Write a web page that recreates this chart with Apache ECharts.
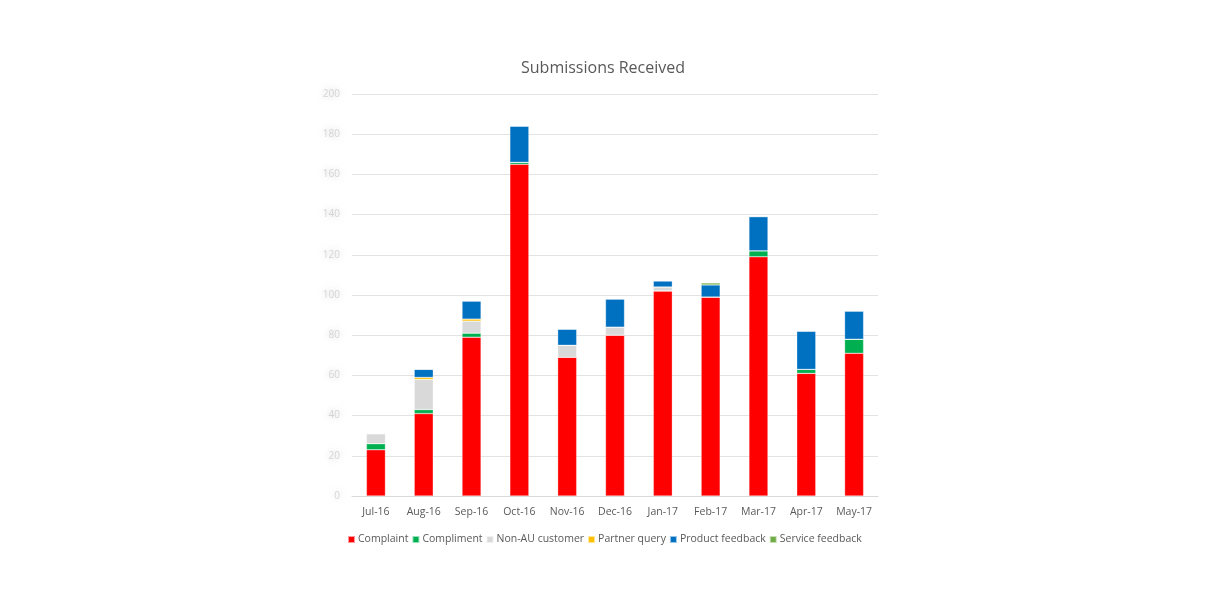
<!DOCTYPE html>
<html>
<head>
<meta charset="utf-8">
<script src="https://cdn.jsdelivr.net/npm/echarts@6/dist/echarts.min.js"></script>
<style>
  html, body { margin: 0; padding: 0; background: #fff; }
  #main { width: 1222px; height: 600px; }
</style>
</head>
<body>
<div id="main"></div>
<script>
var months = ["Jul-16", "Aug-16", "Sep-16", "Oct-16", "Nov-16", "Dec-16", "Jan-17", "Feb-17", "Mar-17", "Apr-17", "May-17"];
var complaint = [23, 41, 79, 165, 69, 80, 102, 99, 119, 61, 71];
var compliment = [3, 2, 2, 1, 0, 0, 0, 0, 3, 2, 7];
var nonAU = [5, 15, 6, 0, 6, 4, 2, 0, 0, 0, 0];
var partnerQuery = [0, 1, 1, 0, 0, 0, 0, 0, 0, 0, 0];
var productFeedback = [0, 4, 9, 18, 8, 14, 3, 6, 17, 19, 14];
var serviceFeedback = [0, 0, 0, 0, 0, 0, 0, 1, 0, 0, 0];

var seriesNames = ["Complaint", "Compliment", "Non-AU customer", "Partner query", "Product feedback", "Service feedback"];
var seriesData = [complaint, compliment, nonAU, partnerQuery, productFeedback, serviceFeedback];
var colors = ["#ff0000", "#00b050", "#d9d9d9", "#ffc000", "#0070c0", "#70ad47"];

var myChart = echarts.init(document.getElementById("main"));

var series = seriesNames.map(function (name, i) {
  return {
    name: name,
    type: "bar",
    stack: "total",
    barWidth: 19,
    data: seriesData[i],
    itemStyle: { color: colors[i], borderColor: "rgba(255,255,255,0.6)", borderWidth: 0.5 },
    emphasis: { disabled: true }
  };
});

myChart.setOption({
  animation: false,
  textStyle: { fontFamily: "Open Sans" },
  title: {
    text: "Submissions Received",
    left: 516,
    top: 55,
    textStyle: { fontSize: 16, fontWeight: "normal", color: "#595959", fontFamily: "Open Sans" }
  },
  legend: {
    bottom: 55,
    left: 347,
    padding: 0,
    itemWidth: 7,
    itemHeight: 7,
    itemGap: 3,
    icon: "rect",
    textStyle: { fontSize: 10.5, color: "#595959", padding: [0, 0, 0, -2] },
    data: seriesNames
  },
  grid: { left: 352, right: 344, top: 94, bottom: 104 },
  xAxis: {
    type: "category",
    data: months,
    axisLine: { lineStyle: { color: "#d9d9d9" } },
    axisTick: { show: false },
    axisLabel: { color: "#595959", fontSize: 10.5, margin: 11, interval: 0 }
  },
  yAxis: {
    type: "value",
    min: 0,
    max: 200,
    interval: 20,
    axisLine: { show: false },
    axisTick: { show: false },
    splitLine: { lineStyle: { color: "#e3e3e3", width: 1 } },
    axisLabel: {
      color: "rgba(190,190,190,0.6)",
      fontSize: 10,
      margin: 12,
      textShadowColor: "rgba(170,170,170,0.9)",
      textShadowBlur: 6
    }
  },
  series: series
});
</script>
</body>
</html>
